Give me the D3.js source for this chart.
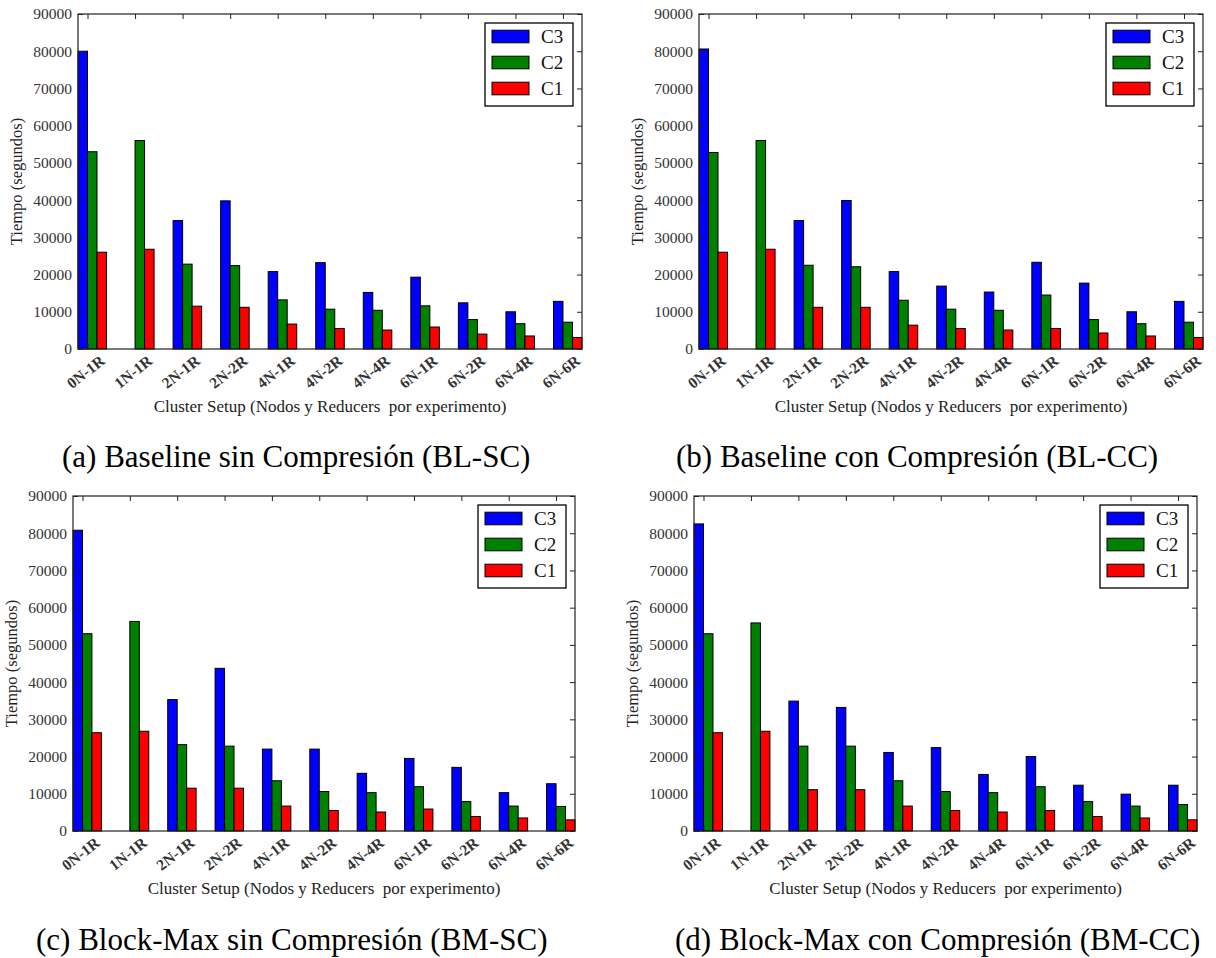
<!DOCTYPE html>
<html>
<head>
<meta charset="utf-8">
<script src="https://cdn.jsdelivr.net/npm/d3@7"></script>
<style>
  html, body { margin: 0; padding: 0; background: #fff; }
  svg { display: block; }
  text { font-family: "Liberation Serif"; }
</style>
</head>
<body>
<svg id="chart" width="1216" height="958"></svg>
<script>
// ---------- data ----------
const categories = ["0N-1R","1N-1R","2N-1R","2N-2R","4N-1R","4N-2R","4N-4R","6N-1R","6N-2R","6N-4R","6N-6R"];
const seriesNames = ["C3","C2","C1"];
const seriesColors = ["#0000ff","#008000","#ff0000"];
const yTickValues = [0,10000,20000,30000,40000,50000,60000,70000,80000,90000];

// (a) Baseline sin Compresión
const blSC_C3 = [80000, 0, 34500, 39800, 20800, 23200, 15200, 19300, 12400, 10000, 12800];
const blSC_C2 = [53000, 56000, 22800, 22400, 13200, 10700, 10400, 11600, 7900, 6800, 7200];
const blSC_C1 = [26000, 26800, 11500, 11200, 6700, 5500, 5100, 5900, 4000, 3500, 3100];
// (b) Baseline con Compresión
const blCC_C3 = [80600, 0, 34500, 39900, 20800, 16900, 15300, 23300, 17700, 10000, 12800];
const blCC_C2 = [52800, 56000, 22500, 22100, 13100, 10700, 10400, 14500, 7900, 6800, 7200];
const blCC_C1 = [26000, 26800, 11200, 11200, 6400, 5500, 5100, 5500, 4300, 3500, 3100];
// (c) Block-Max sin Compresión
const bmSC_C3 = [80800, 0, 35300, 43700, 22000, 22000, 15500, 19500, 17100, 10300, 12700];
const bmSC_C2 = [53000, 56300, 23200, 22800, 13500, 10600, 10300, 11900, 7900, 6700, 6600];
const bmSC_C1 = [26400, 26800, 11500, 11500, 6700, 5500, 5100, 5900, 3900, 3500, 3000];
// (d) Block-Max con Compresión
const bmCC_C3 = [82500, 0, 34900, 33200, 21100, 22400, 15200, 20000, 12300, 9900, 12300];
const bmCC_C2 = [53000, 55900, 22800, 22800, 13500, 10600, 10300, 11900, 7900, 6700, 7100];
const bmCC_C1 = [26400, 26800, 11100, 11100, 6700, 5500, 5100, 5500, 3900, 3500, 3000];

const captions = [
  "(a) Baseline sin Compresión (BL-SC)",
  "(b) Baseline con Compresión (BL-CC)",
  "(c) Block-Max sin Compresión (BM-SC)",
  "(d) Block-Max con Compresión (BM-CC)"
];
const yTitle = "Tiempo (segundos)";
const xTitle = "Cluster Setup (Nodos y Reducers\u00a0 por experimento)";

// ---------- layout ----------
const panels = [
  { series: [blSC_C3, blSC_C2, blSC_C1], left: 78,  right: 582,  top: 14,  bottom: 349, capX: 62,  capY: 467 },
  { series: [blCC_C3, blCC_C2, blCC_C1], left: 699, right: 1203, top: 14,  bottom: 349, capX: 676, capY: 467 },
  { series: [bmSC_C3, bmSC_C2, bmSC_C1], left: 73,  right: 575,  top: 496, bottom: 831, capX: 36,  capY: 950 },
  { series: [bmCC_C3, bmCC_C2, bmCC_C1], left: 694, right: 1197, top: 496, bottom: 831, capX: 675, capY: 950 }
];

const FONT = '"Liberation Serif", "Tinos", "Times New Roman", serif';
const barW = 0.2;
const svg = d3.select("#chart");

panels.forEach((p, pi) => {
  const g = svg.append("g");
  const x = d3.scaleLinear().domain([0, categories.length - 1 + 3 * barW]).range([p.left, p.right]);
  const y = d3.scaleLinear().domain([0, 90000]).range([p.bottom, p.top]);

  // bars
  seriesNames.forEach((s, si) => {
    g.append("g").selectAll("rect")
      .data(p.series[si])
      .join("rect")
      .attr("x", (d, i) => x(i + si * barW))
      .attr("y", d => y(d))
      .attr("width", x(barW) - x(0))
      .attr("height", d => y(0) - y(d))
      .attr("fill", seriesColors[si])
      .attr("stroke", "#000")
      .attr("stroke-width", 1);
  });

  // axes (inward ticks)
  const tickLen = 5;
  const yAxisL = d3.axisRight(y).tickValues(yTickValues).tickSize(tickLen).tickFormat("");
  const yAxisR = d3.axisLeft(y).tickValues(yTickValues).tickSize(tickLen).tickFormat("");
  const tickPos = categories.map((c, i) => i + barW);
  const xAxisT = d3.axisBottom(x).tickValues(tickPos).tickSize(tickLen).tickFormat("");
  const xAxisB = d3.axisTop(x).tickValues(tickPos).tickSize(tickLen).tickFormat("");

  const axG = [
    g.append("g").attr("transform", `translate(${p.left},0)`).call(yAxisL),
    g.append("g").attr("transform", `translate(${p.right},0)`).call(yAxisR),
    g.append("g").attr("transform", `translate(0,${p.top})`).call(xAxisT),
    g.append("g").attr("transform", `translate(0,${p.bottom})`).call(xAxisB)
  ];
  axG.forEach(a => {
    a.select(".domain").remove();
    a.selectAll(".tick line").attr("stroke", "#222").attr("stroke-width", 1);
  });

  // frame
  g.append("rect")
    .attr("x", p.left).attr("y", p.top)
    .attr("width", p.right - p.left).attr("height", p.bottom - p.top)
    .attr("fill", "none").attr("stroke", "#222").attr("stroke-width", 1.2);

  // y tick labels
  g.append("g").selectAll("text")
    .data(yTickValues)
    .join("text")
    .attr("x", p.left - 6)
    .attr("y", d => y(d))
    .attr("dy", "0.35em")
    .attr("text-anchor", "end")
    .style("font-family", FONT)
    .style("font-size", "15.5px")
    .attr("fill", "#333")
    .text(d => d);

  // x tick labels (rotated)
  const angle = 38;
  const theta = angle * Math.PI / 180;
  const fs = 15.5;
  g.append("g").selectAll("text")
    .data(categories)
    .join("text")
    .attr("text-anchor", "middle")
    .attr("dominant-baseline", "central")
    .style("font-family", FONT)
    .style("font-weight", "bold")
    .style("font-size", fs + "px")
    .attr("fill", "#333")
    .text(d => d)
    .each(function(d, i) {
      const L = this.getComputedTextLength();
      const h = fs * 0.72;
      const H = L * Math.sin(theta) + h * Math.cos(theta);
      const cx = x(i + barW) - 2;
      const cy = p.bottom + 5 + H / 2;
      d3.select(this).attr("transform", `translate(${cx},${cy}) rotate(${-angle})`);
    });

  // axis titles
  g.append("text")
    .attr("transform", `translate(${p.left - 56},${(p.top + p.bottom) / 2}) rotate(-90)`)
    .attr("text-anchor", "middle")
    .style("font-family", FONT)
    .style("font-size", "16.5px")
    .attr("fill", "#222")
    .text(yTitle);

  g.append("text")
    .attr("x", (p.left + p.right) / 2)
    .attr("y", p.bottom + 63)
    .attr("text-anchor", "middle")
    .style("font-family", FONT)
    .style("font-size", "17px")
    .attr("fill", "#222")
    .text(xTitle);

  // legend
  const lgX = p.right - 97, lgY = p.top + 9;
  const lg = g.append("g");
  lg.append("rect")
    .attr("x", lgX).attr("y", lgY).attr("width", 88).attr("height", 83)
    .attr("fill", "#fff").attr("stroke", "#000").attr("stroke-width", 1.3);
  seriesNames.forEach((s, si) => {
    const cy = lgY + 13.5 + si * 26;
    lg.append("rect")
      .attr("x", lgX + 7).attr("y", cy - 6.3)
      .attr("width", 37).attr("height", 12.6)
      .attr("fill", seriesColors[si]).attr("stroke", "#000").attr("stroke-width", 1);
    lg.append("text")
      .attr("x", lgX + 56).attr("y", cy)
      .attr("dy", "0.35em")
      .style("font-family", FONT)
      .style("font-size", "19px")
      .attr("fill", "#111")
      .text(s);
  });

  // caption
  svg.append("text")
    .attr("x", p.capX).attr("y", p.capY)
    .style("font-family", FONT)
    .style("font-size", "31px")
    .attr("fill", "#000")
    .text(captions[pi]);
});
</script>
</body>
</html>
